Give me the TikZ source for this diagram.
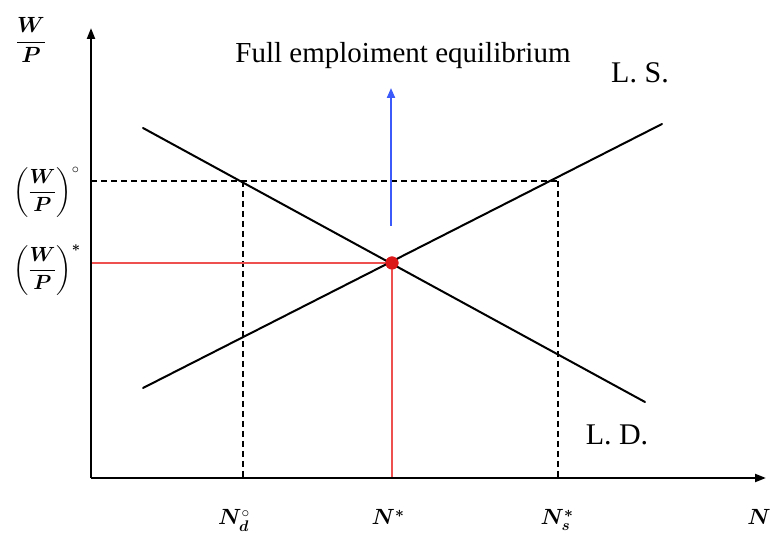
\RequirePackage{fix-cm}
\documentclass[tikz,border=0pt]{standalone}
\usepackage{amsmath}
\usepackage{bm}
\usepackage{fontspec}
\setmainfont{Liberation Serif}
\usetikzlibrary{arrows.meta}
\definecolor{eqred}{RGB}{238,80,80}
\definecolor{dotred}{RGB}{220,25,25}
\definecolor{arrblue}{RGB}{60,90,250}
\begin{document}
\begin{tikzpicture}[x=1pt,y=-1pt,
  axis/.style={line width=2.2pt,-{Triangle[length=11pt,width=8pt]}},
  curve/.style={line width=2pt,line cap=round},
  guide/.style={line width=1.1pt,dash pattern=on 6pt off 4pt},
  redline/.style={line width=1.8pt,eqred},
  mlabel/.style={inner sep=0pt,font=\fontsize{22}{26}\selectfont},
  plabel/.style={inner sep=0pt,anchor=west,font=\fontsize{20.5}{24}\selectfont},
  tlabel/.style={inner sep=0pt,anchor=base,font=\fontsize{30}{34}\selectfont}]
\useasboundingbox (0,0) rectangle (772,534);
% coordinates
\coordinate (O) at (91,478);
\coordinate (ytop) at (91,28);
\coordinate (xend) at (766,478);
\coordinate (ld1) at (143,128);
\coordinate (ld2) at (645,402);
\coordinate (ls1) at (143,388);
\coordinate (ls2) at (662,124);
\coordinate (hL) at (91,181);
\coordinate (hA) at (243,181);
\coordinate (hB) at (558,181);
\coordinate (vA) at (243,478);
\coordinate (vB) at (558,478);
\coordinate (rL) at (91,263);
\coordinate (rB) at (392,478);
\coordinate (b1) at (391,226);
\coordinate (b2) at (391,88);
% guides
\draw[guide] (hL) -- (hB);
\draw[guide] (hA) -- (vA);
\draw[guide] (hB) -- (vB);
% red lines
\node[circle,fill=dotred,minimum size=13pt,inner sep=0pt] (E) at (392,263) {};
\draw[redline] (rL) -- (E.center) -- (rB);
% curves
\draw[curve] (ld1) -- (ld2);
\draw[curve] (ls1) -- (ls2);
\node[circle,fill=dotred,minimum size=13pt,inner sep=0pt] at (E) {};
% axes
\draw[axis] (O) -- (ytop);
\draw[axis] (O) -- (xend);
% blue arrow
\draw[line width=2pt,arrblue,-{Triangle[length=10pt,width=8pt]}] (b1) -- (b2);
% texts
\node[anchor=base,inner sep=0pt,font=\fontsize{29}{32}\selectfont] (title) at (403,63) {Full emploiment equilibrium};
\node[tlabel] (LS) at (640,83) {L. S.};
\node[tlabel] (LD) at (617,445) {L. D.};
\node[mlabel] (wp) at (31,40) {$\displaystyle\frac{\bm{W}}{\bm{P}}$};
\node[plabel] (wpo) at (13,192) {$\displaystyle\left(\frac{\bm{W}}{\bm{P}}\right)^{\circ}$};
\node[plabel] (wps) at (13,270) {$\displaystyle\left(\frac{\bm{W}}{\bm{P}}\right)^{\bm{*}}$};
\node[mlabel,anchor=base] (nd) at (234,525) {$\bm{N}_{\bm{d}}^{\circ}$};
\node[mlabel,anchor=base] (ns) at (388,525) {$\bm{N}^{\bm{*}}$};
\node[mlabel,anchor=base] (nss) at (557,525) {$\bm{N}_{\bm{s}}^{\bm{*}}$};
\node[mlabel,anchor=base east] (nn) at (771,525) {$\bm{N}$};
\end{tikzpicture}
\end{document}
